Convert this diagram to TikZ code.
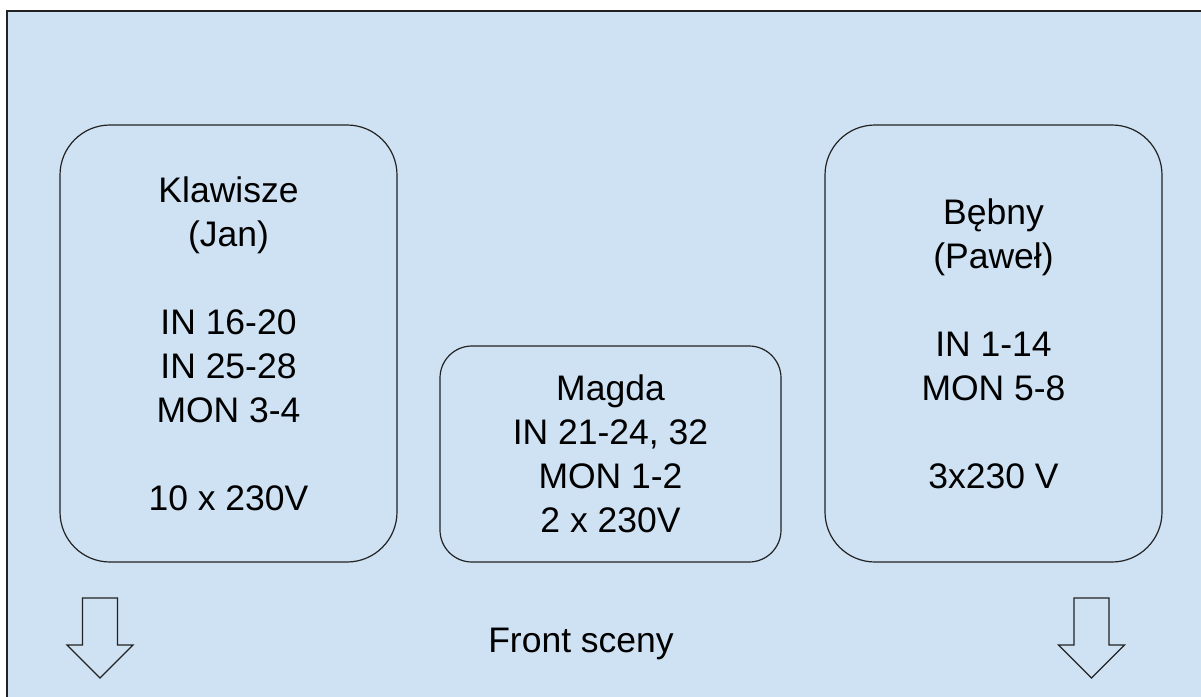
\documentclass[tikz,border=0pt]{standalone}
\usepackage{fontspec}
\setmainfont{Liberation Sans}
\usepackage{xcolor}
\usepackage{tikz}
\usetikzlibrary{positioning}

\definecolor{stagebg}{HTML}{CFE2F3}
\definecolor{edge}{HTML}{222222}

\tikzset{
  spot/.style={draw=edge, line width=1.2pt, rounded corners=50pt, align=center,
    inner sep=0pt, minimum width=337pt, minimum height=437pt,
    font=\fontsize{35.5}{44}\selectfont},
  blockarrow/.style={draw=edge, line width=1.2pt, line join=miter}
}

\begin{document}
\begin{tikzpicture}[x=1pt, y=-1pt]
        \useasboundingbox (0,0) rectangle (1201,696);
        % stage area
        \draw[draw=edge, fill=stagebg, line width=2pt] (7,11) rectangle (1215,710);

        % players
        \node[spot] (klawisze) at (228.5,343.5)
            {Klawisze\\(Jan)\\[44pt]IN 16-20\\IN 25-28\\MON 3-4\\[44pt]10 x 230V};
        \node[spot, rounded corners=32pt, minimum width=341pt, minimum height=216pt]
            (magda) at (610.5,454) {Magda\\IN 21-24, 32\\MON 1-2\\2 x 230V};
        \node[spot] (bebny) at (993.5,343.5)
            {Bębny\\(Paweł)\\[44pt]IN 1-14\\MON 5-8\\[44pt]3x230 V};

        % front of the stage
        \node[anchor=base, font=\fontsize{35.5}{44}\selectfont] (front) at (581,652) {Front sceny};
        \foreach \cx in {100,1091.5}
            \draw[blockarrow] (\cx-17.5,598) -- (\cx+17.5,598) -- (\cx+17.5,645) -- (\cx+33,645)
                -- (\cx,678) -- (\cx-33,645) -- (\cx-17.5,645) -- cycle;
\end{tikzpicture}
\end{document}
